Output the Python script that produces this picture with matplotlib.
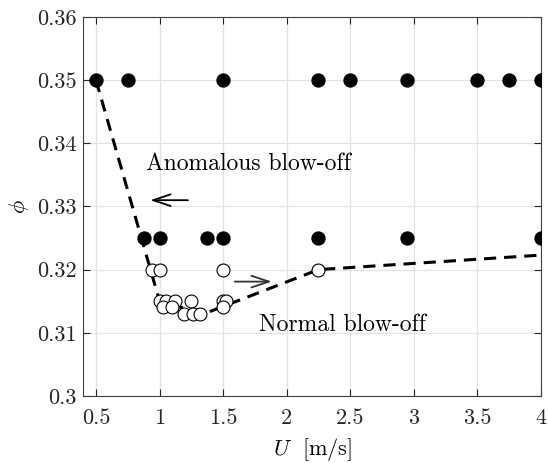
import matplotlib
matplotlib.use("Agg")
import matplotlib.pyplot as plt
from matplotlib.ticker import FuncFormatter

plt.rcParams.update({
    "font.family": "serif",
    "font.serif": ["cmr10"],
    "mathtext.fontset": "cm",
    "axes.formatter.use_mathtext": True,
})

# blow-off observed (filled)
blow_u = [0.5, 0.75, 1.5, 2.25, 2.5, 2.95, 3.5, 3.75, 4.0,
          0.875, 1.0, 1.375, 1.5, 2.25, 2.95, 4.0]
blow_phi = [0.35] * 9 + [0.325] * 7

# stable flame (open)
stable_u = [0.94, 1.0, 1.5, 2.25,
            1.0, 1.05, 1.125, 1.25, 1.5, 1.525,
            1.03, 1.1, 1.5,
            1.19, 1.26, 1.32]
stable_phi = [0.32, 0.32, 0.32, 0.32,
              0.315, 0.315, 0.315, 0.315, 0.315, 0.315,
              0.314, 0.314, 0.314,
              0.313, 0.313, 0.313]

# blow-off limit (dashed)
limit_u = [0.5, 1.0, 1.35, 2.25, 4.0]
limit_phi = [0.35, 0.315, 0.313, 0.32, 0.3223]

x_ticks = [0.5, 1, 1.5, 2, 2.5, 3, 3.5, 4]
y_ticks = [0.30, 0.31, 0.32, 0.33, 0.34, 0.35, 0.36]

fig = plt.figure(figsize=(5.48, 4.63), dpi=100)
ax = fig.add_axes([0.152, 0.145, 0.835, 0.818])

ax.plot(limit_u, limit_phi, "--", color="black", lw=2.2, dashes=(4, 2.6), zorder=2)
ax.plot(blow_u, blow_phi, "o", ms=9.3, mfc="black", mec="black", zorder=3)
ax.plot(stable_u, stable_phi, "o", ms=9.3, mfc="white", mec="black", mew=0.8, zorder=4)

head = "->,head_length=0.9,head_width=0.3"
ax.text(0.89, 0.3368, "Anomalous blow-off", fontsize=17, va="center", ha="left")
ax.annotate("", xy=(0.905, 0.331), xytext=(1.245, 0.331),
            arrowprops=dict(arrowstyle=head, color="black", lw=1.3, mutation_scale=14))
ax.text(1.78, 0.3113, "Normal blow-off", fontsize=17, va="center", ha="left")
ax.annotate("", xy=(1.905, 0.3181), xytext=(1.57, 0.3181),
            arrowprops=dict(arrowstyle=head, color="#333333", lw=1.3, mutation_scale=14))

ax.set_xlim(0.4, 4.0)
ax.set_ylim(0.30, 0.36)
ax.set_xticks(x_ticks)
ax.set_yticks(y_ticks)
ax.xaxis.set_major_formatter(FuncFormatter(lambda v, p: "%g" % round(v, 3)))
ax.yaxis.set_major_formatter(FuncFormatter(lambda v, p: "%g" % round(v, 3)))
ax.tick_params(direction="in", top=True, right=True, length=5, width=0.8,
               labelsize=16, colors="#262626")
ax.tick_params(axis="x", pad=9)
ax.tick_params(axis="y", pad=5)
ax.grid(True, color="#e3e3e3", lw=0.9)
ax.set_axisbelow(True)
for s in ax.spines.values():
    s.set_color("#404040")
    s.set_linewidth(0.8)

ax.set_xlabel(r"$U\ $ [m/s]", fontsize=16, labelpad=6)
ax.set_ylabel(r"$\phi$", fontsize=16, labelpad=4)

fig.savefig("out.png", dpi=100)
